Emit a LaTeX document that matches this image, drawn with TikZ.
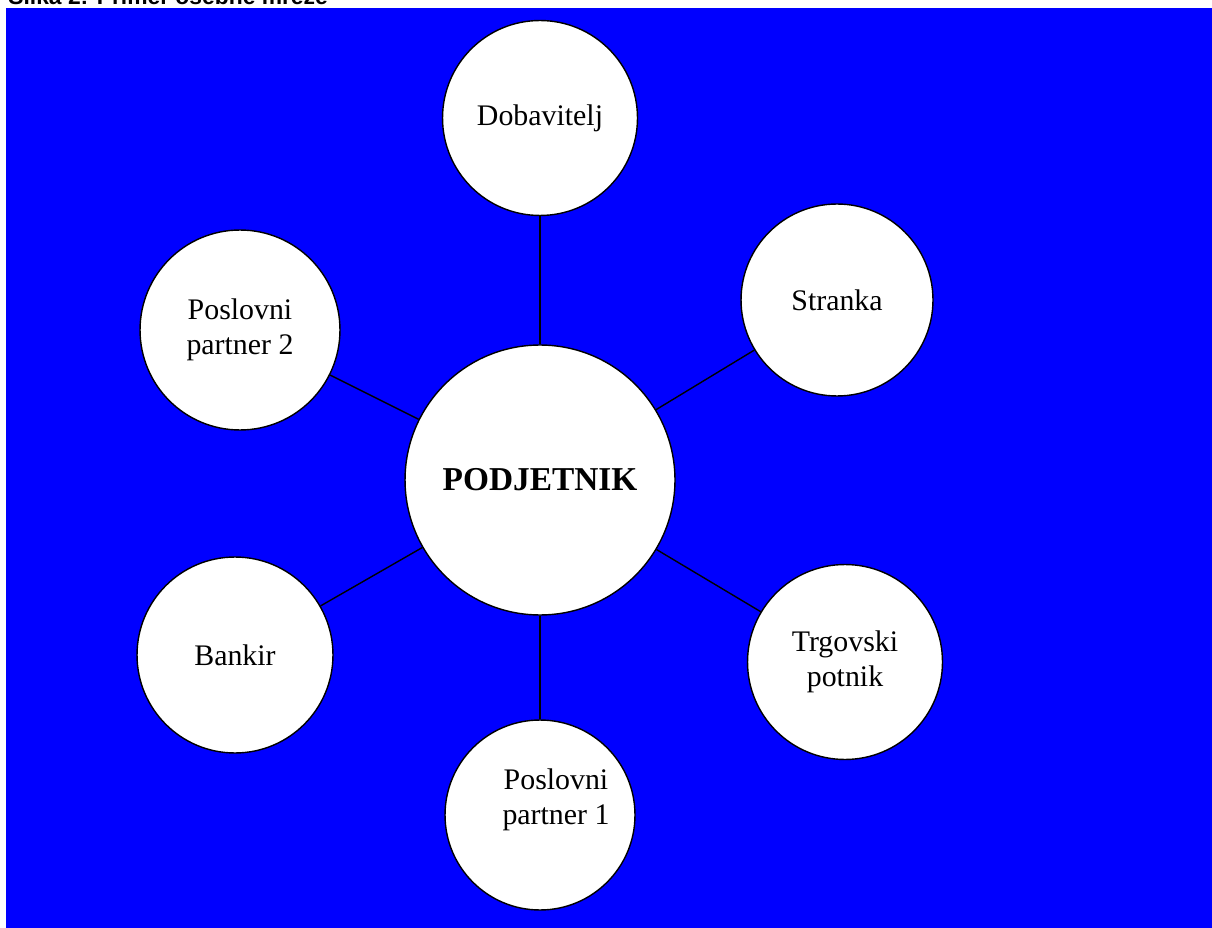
\documentclass[tikz,border=0pt]{standalone}
\usepackage{fontspec}
\setmainfont{Liberation Serif}
\newfontfamily\titlefont{Liberation Sans}
\definecolor{bgblue}{RGB}{0,0,255}
\tikzstyle{actor}=[circle,draw,thick,fill=white,inner sep=0pt,align=center,font=\fontsize{17}{20}\selectfont]
\tikzstyle{edge} = [draw,thick,-]

\begin{document}
\begin{tikzpicture}[x=0.02cm,y=-0.02cm]
        \useasboundingbox (0,0) rectangle (1212,928);
        \clip (0,0) rectangle (1212,928);
        \node[anchor=base west,font=\titlefont\bfseries\fontsize{13}{15}\selectfont,inner sep=0pt] (title) at (8,5) {Slika 2: Primer osebne mreže};
        \fill[bgblue] (6,8) rectangle (1212,928);

        \node[actor,minimum size=5.4cm,font=\bfseries\fontsize{19}{22}\selectfont] (podj) at (540,480) {PODJETNIK};
        \node[actor,minimum size=3.9cm] (dob) at (540,118) {Dobavitelj};
        \node[actor,minimum size=3.84cm] (str) at (837,300) {Stranka};
        \node[actor,minimum size=4.0cm] (pp2) at (240,330) {Poslovni\\partner 2};
        \node[actor,minimum size=3.92cm] (bank) at (235,655) {Bankir};
        \node[actor,minimum size=3.9cm] (trg) at (845,662) {Trgovski\\potnik};
        \node[actor,minimum size=3.8cm] (pp1) at (540,815) {};
        \node[font=\fontsize{17}{20}\selectfont,align=center] (pp1_text) at (556,800) {Poslovni\\partner 1};

        \path[edge] (podj) -- (dob);
        \path[edge] (podj) -- (str);
        \path[edge] (podj) -- (pp2);
        \path[edge] (podj) -- (bank);
        \path[edge] (podj) -- (trg);
        \path[edge] (podj) -- (pp1);
    \end{tikzpicture}
\end{document}
